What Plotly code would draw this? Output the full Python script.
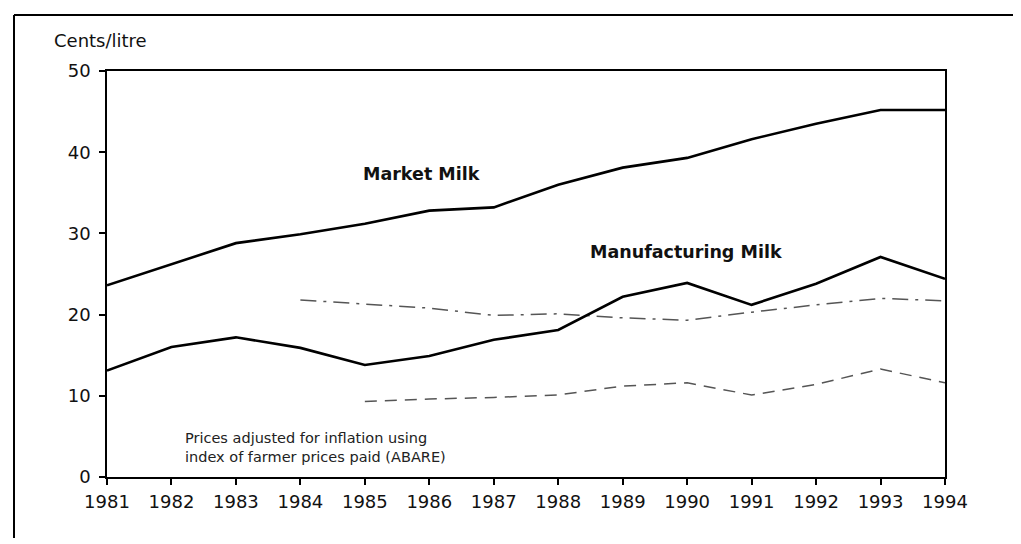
import plotly.graph_objects as go

years = [1981, 1982, 1983, 1984, 1985, 1986, 1987, 1988, 1989, 1990, 1991, 1992, 1993, 1994]
market_milk = [23.6, 26.2, 28.8, 29.9, 31.2, 32.8, 33.2, 36.0, 38.1, 39.3, 41.6, 43.5, 45.2, 45.2]
manufacturing_milk = [13.1, 16.0, 17.2, 15.9, 13.8, 14.9, 16.9, 18.1, 22.2, 23.9, 21.2, 23.8, 27.1, 24.4]

dashed_upper_years = [1984, 1985, 1986, 1987, 1988, 1989, 1990, 1991, 1992, 1993, 1994]
dashed_upper = [21.8, 21.3, 20.8, 19.9, 20.1, 19.6, 19.3, 20.3, 21.2, 22.0, 21.7]

dashed_lower_years = [1985, 1986, 1987, 1988, 1989, 1990, 1991, 1992, 1993, 1994]
dashed_lower = [9.3, 9.6, 9.8, 10.1, 11.2, 11.6, 10.1, 11.4, 13.3, 11.6]

y_ticks = [0, 10, 20, 30, 40, 50]

# page has an 8px body margin; work in figure coordinates = screen - OFF
OFF = 7
W, H = 1005, 530
L, R, T, B = 106 - OFF, 944 - OFF, 70 - OFF, 476 - OFF

fig = go.Figure()
fig.add_trace(go.Scatter(x=dashed_upper_years, y=dashed_upper, mode="lines",
                         line=dict(color="#555", width=1.5, dash="16px,7px,3px,7px"),
                         name="dashed upper", showlegend=False))
fig.add_trace(go.Scatter(x=dashed_lower_years, y=dashed_lower, mode="lines",
                         line=dict(color="#555", width=1.5, dash="12px,8px"),
                         name="dashed lower", showlegend=False))
fig.add_trace(go.Scatter(x=years, y=market_milk, mode="lines",
                         line=dict(color="#000", width=2.6),
                         name="Market Milk", showlegend=False))
fig.add_trace(go.Scatter(x=years, y=manufacturing_milk, mode="lines",
                         line=dict(color="#000", width=2.6),
                         name="Manufacturing Milk", showlegend=False))

def px(xs):
    return (xs - OFF - L) / (R - L)

def py(ys):
    return (B - (ys - OFF)) / (B - T)

font_main = "DejaVu Sans, Arial, sans-serif"

fig.update_layout(
    width=W, height=H,
    margin=dict(l=L, r=W - R, t=T, b=H - B),
    paper_bgcolor="white", plot_bgcolor="white",
    showlegend=False,
    xaxis=dict(range=[1981, 1994], tickvals=years, ticktext=[str(y) for y in years],
               showgrid=False, zeroline=False, showline=True, mirror=True,
               linecolor="#000", linewidth=1.5, ticks="outside", ticklen=6,
               tickcolor="#000", tickwidth=1.5, ticklabelstandoff=2,
               tickfont=dict(family=font_main, size=18, color="#111")),
    yaxis=dict(range=[0, 50], tickvals=y_ticks,
               showgrid=False, zeroline=False, showline=True, mirror=True,
               linecolor="#000", linewidth=1.5, ticks="outside", ticklen=6,
               tickcolor="#000", tickwidth=1.5, ticklabelstandoff=5,
               tickfont=dict(family=font_main, size=18, color="#111")),
    annotations=[
        dict(text="Cents/litre", xref="paper", yref="paper", x=px(51), y=py(40),
             xanchor="left", yanchor="middle", showarrow=False,
             font=dict(family=font_main, size=18, color="#111")),
        dict(text="<b>Market Milk</b>", xref="paper", yref="paper", x=px(420), y=py(173),
             xanchor="center", yanchor="middle", showarrow=False,
             font=dict(family=font_main, size=17.5, color="#111")),
        dict(text="<b>Manufacturing Milk</b>", xref="paper", yref="paper", x=px(685), y=py(251),
             xanchor="center", yanchor="middle", showarrow=False,
             font=dict(family=font_main, size=17.5, color="#111")),
        dict(text="Prices adjusted for inflation using<br>index of farmer prices paid (ABARE)",
             xref="paper", yref="paper", x=px(182), y=py(446),
             xanchor="left", yanchor="middle", align="left", showarrow=False,
             font=dict(family=font_main, size=14.5, color="#222")),
    ],
    shapes=[
        dict(type="line", xref="paper", yref="paper", x0=px(13), x1=px(13), y0=py(14), y1=py(544),
             line=dict(color="#000", width=2)),
        dict(type="line", xref="paper", yref="paper", x0=px(13), x1=px(1021), y0=py(14), y1=py(14),
             line=dict(color="#000", width=2)),
    ],
)

fig.write_html("out.html")
